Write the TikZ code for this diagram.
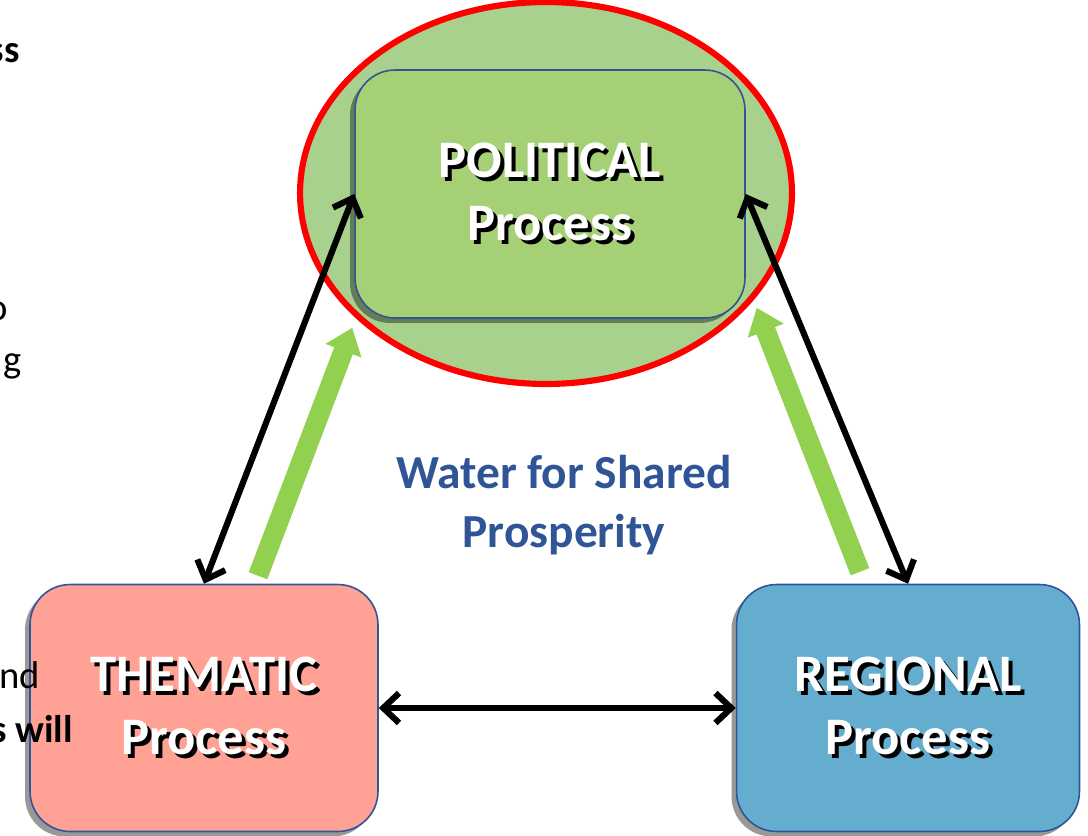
\documentclass[tikz,border=0pt]{standalone}
\usepackage{fontspec}
\setmainfont{Carlito}
\usetikzlibrary{arrows.meta,shapes.geometric,shadows,calc}
\definecolor{ringgreen}{RGB}{169,209,142}
\definecolor{polgreen}{RGB}{166,208,118}
\definecolor{themred}{RGB}{255,161,148}
\definecolor{regblue}{RGB}{100,173,207}
\definecolor{edgeblue}{RGB}{47,85,151}
\definecolor{flowgreen}{RGB}{146,208,80}
\newcommand{\shtxt}[1]{\rlap{\kern2.2pt\raisebox{-2.2pt}{\color{black}#1}}{\color{white}#1}}
\tikzset{
  procbox/.style={draw=edgeblue,line width=0.9pt,rounded corners=0.8cm,align=center,
    font=\bfseries\fontsize{30}{36}\selectfont,
    drop shadow={shadow xshift=-0.1cm,shadow yshift=-0.1cm,fill=black,opacity=0.4}},
  linkarr/.style={line width=3.5pt,{Straight Barb[length=9pt,width=17pt]}-{Straight Barb[length=9pt,width=17pt]}},
  flowarr/.style={flowgreen,line width=11.3pt,-{Triangle[length=14pt,width=21pt]}},
  frag/.style={anchor=base east,inner sep=0pt,font=\fontsize{22}{26}\selectfont}
}
\begin{document}
\begin{tikzpicture}[x=0.02cm,y=-0.02cm]
\useasboundingbox(0,0)rectangle(1088,835);
\node[ellipse,draw=red,line width=3.5pt,fill=ringgreen,minimum width=9.84cm,minimum height=7.64cm](ring)at(546,193){};
\node[procbox,fill=polgreen,minimum width=7.8cm,minimum height=4.96cm](pol)at(550,194){\shtxt{POLITICAL}\\\shtxt{Process}};
\node[procbox,fill=themred,minimum width=6.96cm,minimum height=4.94cm](them)at(204,708){\shtxt{THEMATIC}\\\shtxt{Process}};
\node[procbox,fill=regblue,minimum width=6.86cm,minimum height=4.94cm](reg)at(908,708){\shtxt{REGIONAL}\\\shtxt{Process}};
\node[text=edgeblue,align=center,font=\bfseries\fontsize{27}{34}\selectfont](goal)at(564,505){Water for Shared\\Prosperity};
\draw[flowarr]($(them.north)+(54,-8)$)--($(pol.south west)+(-2,9)$);
\draw[flowarr]($(reg.north)+(-48,-12)$)--($(pol.south east)+(11,-11)$);
\draw[linkarr](them.north)--(pol.west);
\draw[linkarr](reg.north)--(pol.east);
\draw[linkarr](them.east)--(reg.west);
\node[frag,font=\bfseries\fontsize{22}{26}\selectfont](f1)at(20,62){ss};
\node[frag](f2)at(8,320){o};
\node[frag](f3)at(22,372){g};
\node[frag](f4)at(40,688){nd};
\node[frag,font=\bfseries\fontsize{22}{26}\selectfont](f5)at(73,742){s will};
\end{tikzpicture}
\end{document}
